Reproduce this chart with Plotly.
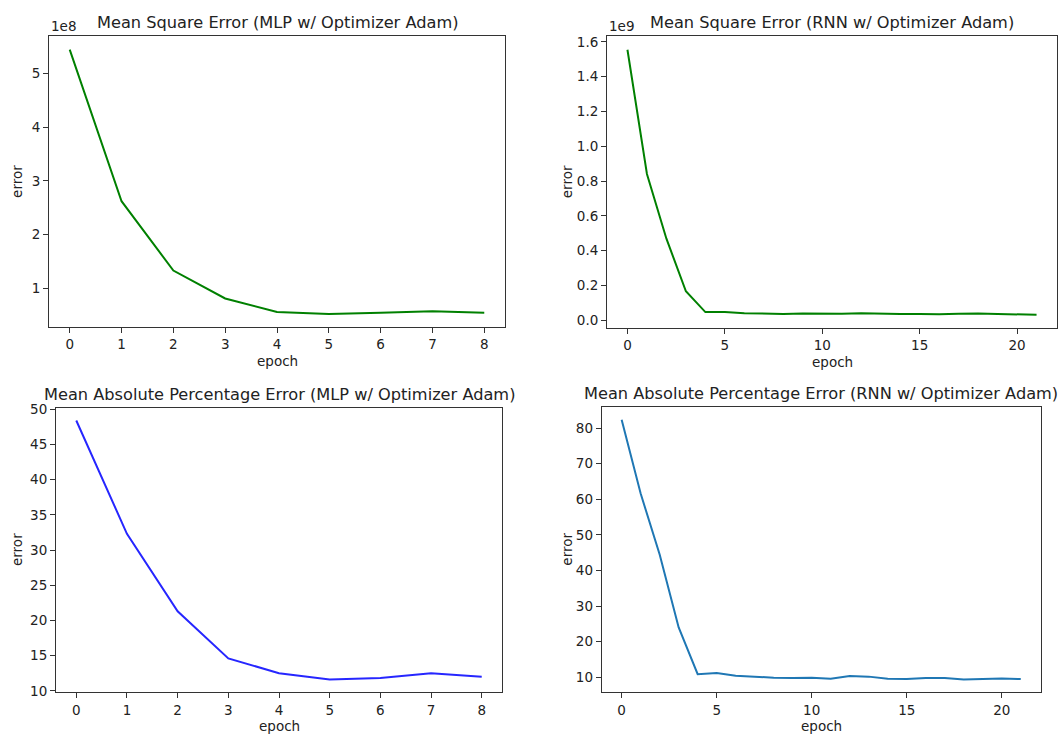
import plotly.graph_objects as go

# ---------------- data ----------------
mlp_epochs = [0, 1, 2, 3, 4, 5, 6, 7, 8]
rnn_epochs = list(range(22))

mlp_mse = [5.44e8, 2.62e8, 1.33e8, 0.81e8, 0.56e8, 0.52e8, 0.545e8, 0.57e8, 0.545e8]
rnn_mse = [1.555e9, 0.841e9, 0.469e9, 0.167e9, 0.047e9, 0.047e9, 0.041e9, 0.039e9,
           0.036e9, 0.039e9, 0.037e9, 0.037e9, 0.041e9, 0.037e9, 0.036e9, 0.036e9,
           0.034e9, 0.037e9, 0.039e9, 0.036e9, 0.036e9, 0.032e9]
mlp_mape = [48.4, 32.3, 21.3, 14.6, 12.5, 11.6, 11.8, 12.5, 12.0]
rnn_mape = [82.3, 61.6, 44.5, 24.0, 10.9, 11.2, 10.45, 10.1, 9.9, 9.8, 9.9, 9.6,
            10.4, 10.2, 9.6, 9.5, 9.8, 9.8, 9.4, 9.5, 9.7, 9.5]

titles = [
    "Mean Square Error (MLP w/ Optimizer Adam)",
    "Mean Square Error (RNN w/ Optimizer Adam)",
    "Mean Absolute Percentage Error (MLP w/ Optimizer Adam)",
    "Mean Absolute Percentage Error (RNN w/ Optimizer Adam)",
]
mlp_x_ticks = [0, 1, 2, 3, 4, 5, 6, 7, 8]
rnn_x_ticks = [0, 5, 10, 15, 20]
mlp_mse_ticks = [1, 2, 3, 4, 5]           # x 1e8
rnn_mse_ticks = [0.0, 0.2, 0.4, 0.6, 0.8, 1.0, 1.2, 1.4, 1.6]  # x 1e9
mlp_mape_ticks = [10, 15, 20, 25, 30, 35, 40, 45, 50]
rnn_mape_ticks = [10, 20, 30, 40, 50, 60, 70, 80]

# ---------------- layout helpers ----------------
W, H = 1062, 741
FONT = "DejaVu Sans"
TICK_SIZE = 13.5
TITLE_SIZE = 16.2
TXT = "#222222"


def xdom(l, r):
    return [l / W, r / W]


def ydom(t, b):
    return [1 - b / H, 1 - t / H]


def rng(vals):
    lo, hi = min(vals), max(vals)
    m = (hi - lo) * 0.05
    return [lo - m, hi + m]


# pixel boxes (left, top, right, bottom)
boxes = [
    (49, 30, 505, 326),
    (607, 30, 1057, 326.7),
    (56, 407.7, 502, 697.7),
    (601.7, 407, 1040.7, 697.7),
]

series = [
    (mlp_epochs, mlp_mse, "#008000"),
    (rnn_epochs, rnn_mse, "#008000"),
    (mlp_epochs, mlp_mape, "rgba(0,0,255,0.85)"),
    (rnn_epochs, rnn_mape, "#1f77b4"),
]

fig = go.Figure()
layout = dict(
    width=W, height=H, autosize=False,
    margin=dict(l=0, r=0, t=0, b=0),
    paper_bgcolor="white", plot_bgcolor="white",
    showlegend=False,
    font=dict(family=FONT, size=TICK_SIZE, color=TXT),
)

yticks = [
    ([v * 1e8 for v in mlp_mse_ticks], [str(v) for v in mlp_mse_ticks]),
    ([v * 1e9 for v in rnn_mse_ticks], ["%.1f" % v for v in rnn_mse_ticks]),
    (mlp_mape_ticks, [str(v) for v in mlp_mape_ticks]),
    (rnn_mape_ticks, [str(v) for v in rnn_mape_ticks]),
]
xticks = [mlp_x_ticks, rnn_x_ticks, mlp_x_ticks, rnn_x_ticks]

annotations = []
for i, ((l, t, r, b), (xs, ys, col)) in enumerate(zip(boxes, series)):
    n = "" if i == 0 else str(i + 1)
    fig.add_trace(go.Scatter(x=xs, y=ys, mode="lines",
                             line=dict(color=col, width=2),
                             xaxis="x" + n, yaxis="y" + n, hoverinfo="skip"))
    common = dict(showgrid=False, zeroline=False, showline=True, mirror=True,
                  linecolor="#333333", linewidth=1, ticks="outside", ticklen=5,
                  tickwidth=1, tickcolor="#333333",
                  tickfont=dict(family=FONT, size=TICK_SIZE, color=TXT))
    layout["xaxis" + n] = dict(common, domain=xdom(l, r), anchor="y" + n,
                               range=rng(xs), tickmode="array", tickvals=xticks[i],
                               ticktext=[str(v) for v in xticks[i]])
    layout["yaxis" + n] = dict(common, domain=ydom(t, b), anchor="x" + n,
                               range=rng(ys), tickmode="array",
                               tickvals=yticks[i][0], ticktext=yticks[i][1])
    cx = (l + r) / 2 / W
    # subplot title
    annotations.append(dict(text=titles[i], xref="paper", yref="paper",
                            x=cx, y=1 - t / H, xanchor="center", yanchor="bottom",
                            yshift=2, showarrow=False,
                            font=dict(family=FONT, size=TITLE_SIZE, color=TXT)))
    # x-axis title
    annotations.append(dict(text="epoch", xref="paper", yref="paper",
                            x=cx, y=1 - b / H, xanchor="center", yanchor="top",
                            yshift=-24, showarrow=False,
                            font=dict(family=FONT, size=TICK_SIZE, color=TXT)))

# y-axis titles (pixel x center of rotated text)
ytitle_x = [17, 567, 17, 567]
for i, (l, t, r, b) in enumerate(boxes):
    annotations.append(dict(text="error", xref="paper", yref="paper",
                            x=ytitle_x[i] / W, y=1 - (t + b) / 2 / H,
                            xanchor="center", yanchor="middle", textangle=-90,
                            showarrow=False,
                            font=dict(family=FONT, size=TICK_SIZE, color=TXT)))

# scientific offset texts
for txt, (l, t, r, b) in [("1e8", boxes[0]), ("1e9", boxes[1])]:
    annotations.append(dict(text=txt, xref="paper", yref="paper",
                            x=l / W, y=1 - t / H, xanchor="left", yanchor="bottom",
                            yshift=0, showarrow=False,
                            font=dict(family=FONT, size=TICK_SIZE, color=TXT)))

layout["annotations"] = annotations
fig.update_layout(**layout)

fig.write_html("out.html", config={"displayModeBar": False},
               post_script="document.body.style.margin='0';document.body.style.overflow='hidden';")
